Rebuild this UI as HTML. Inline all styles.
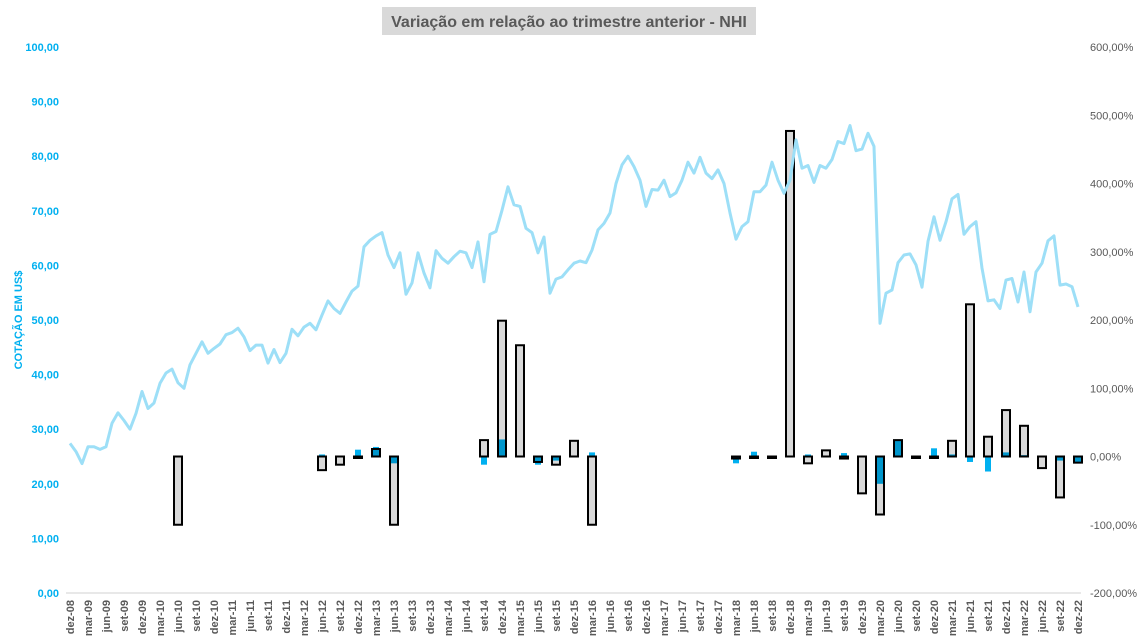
<!DOCTYPE html>
<html><head><meta charset="utf-8"><style>
body{margin:0;background:#fff;}
svg{display:block;font-family:"Liberation Sans",sans-serif;}
</style></head><body>
<svg id="chart" width="1139" height="643" viewBox="0 0 1139 643" xmlns="http://www.w3.org/2000/svg">
<rect x="0" y="0" width="1139" height="643" fill="#fff"/>
<rect x="382" y="7" width="374" height="28" fill="#d9d9d9"/>
<text x="569" y="27" text-anchor="middle" font-size="16" font-weight="bold" fill="#595959">Variação em relação ao trimestre anterior - NHI</text>
<text transform="translate(22,320) rotate(-90)" text-anchor="middle" font-size="11" font-weight="bold" fill="#00b0f0">COTAÇÃO EM US$</text>
<line x1="66" y1="593" x2="1081" y2="593" stroke="#d0d0d0" stroke-width="1"/>
<g id="leftTicks"></g><g id="rightTicks"></g><g id="xLabels"></g>
<g id="bars"></g><g id="blueBars"></g><g id="lineG"></g>
</svg>
<script>
const prices=[27.4,25.9,23.7,26.8,26.8,26.3,26.8,31.1,33.0,31.6,30.0,32.9,36.9,33.8,34.8,38.4,40.3,41.0,38.5,37.5,41.8,43.9,46.0,43.9,44.8,45.6,47.3,47.7,48.5,46.9,44.4,45.4,45.4,42.1,44.6,42.2,43.9,48.3,47.1,48.7,49.4,48.2,50.9,53.5,52.1,51.2,53.3,55.3,56.2,63.4,64.6,65.4,66.0,61.9,59.6,62.3,54.7,56.8,62.3,58.6,55.9,62.7,61.3,60.4,61.6,62.6,62.3,59.6,64.3,57.0,65.7,66.2,70.1,74.4,71.1,70.8,66.8,66.0,62.3,65.2,54.9,57.5,57.9,59.2,60.4,60.8,60.5,62.8,66.5,67.7,69.6,75.0,78.4,80.0,78.1,75.6,70.8,73.9,73.8,75.6,72.6,73.3,75.6,78.9,76.9,79.8,76.9,75.9,77.5,75.0,69.6,64.8,67.1,68.0,73.5,73.5,74.7,78.9,75.6,73.2,75.6,83.0,77.8,78.3,75.2,78.3,77.8,79.4,82.7,82.3,85.6,81.0,81.3,84.2,81.8,49.4,54.9,55.5,60.5,61.9,62.1,60.1,56.0,64.4,68.9,64.6,68.0,72.2,73.0,65.7,67.1,68.0,59.5,53.5,53.7,52.1,57.3,57.6,53.3,58.8,51.5,58.8,60.4,64.5,65.4,56.4,56.6,56.1,52.4];
const quarterLabels=["dez-08","mar-09","jun-09","set-09","dez-09","mar-10","jun-10","set-10","dez-10","mar-11","jun-11","set-11","dez-11","mar-12","jun-12","set-12","dez-12","mar-13","jun-13","set-13","dez-13","mar-14","jun-14","set-14","dez-14","mar-15","jun-15","set-15","dez-15","mar-16","jun-16","set-16","dez-16","mar-17","jun-17","set-17","dez-17","mar-18","jun-18","set-18","dez-18","mar-19","jun-19","set-19","dez-19","mar-20","jun-20","set-20","dez-20","mar-21","jun-21","set-21","dez-21","mar-22","jun-22","set-22","dez-22"];
const grayVals=[null,null,null,null,null,null,-100,null,null,null,null,null,null,null,-20,-12,-2,11,-100,null,null,null,null,24,199,163,-8,-12,23,-100,null,null,null,null,null,null,null,-3,-2,-1,477,-10,9,-3,-54,-85,24,-1,-2,23,223,29,68,45,-17,-60,-9];
const blueVals=[null,null,null,null,null,null,null,null,null,null,null,null,null,null,3,null,10,14,-10,null,null,null,null,-12,25,null,-12,-6,null,6,null,null,null,null,null,null,null,-10,7,null,null,3,null,5,null,-40,25,null,12,3,-8,-22,6,2,null,-6,-9];
const leftTicks=["0,00","10,00","20,00","30,00","40,00","50,00","60,00","70,00","80,00","90,00","100,00"];
const rightTicks=["-200,00%","-100,00%","0,00%","100,00%","200,00%","300,00%","400,00%","500,00%","600,00%"];
const NS="http://www.w3.org/2000/svg";
const X0=70,X1=1078,Y0=593,Y1=47;
const xq=q=>X0+(X1-X0)*q/(quarterLabels.length-1);
const xm=i=>X0+(X1-X0)*i/(prices.length-1);
const yL=v=>Y0-(Y0-Y1)*v/100;
const yR=p=>Y0-(Y0-Y1)*(p+200)/800;
function mk(tag,attrs,parent){const e=document.createElementNS(NS,tag);for(const k in attrs)e.setAttribute(k,attrs[k]);parent.appendChild(e);return e;}
const gl=document.getElementById('leftTicks');
leftTicks.forEach((t,i)=>{const e=mk('text',{x:59,y:yL(i*10)+4,'text-anchor':'end','font-size':11,'font-weight':'bold',fill:'#00b0f0'},gl);


e.textContent=t;});
const gr=document.getElementById('rightTicks');
rightTicks.forEach((t,i)=>{const e=mk('text',{x:1090,y:yR(-200+i*100)+4,'font-size':11,fill:'#595959'},gr);


e.textContent=t;});
const gx=document.getElementById('xLabels');
quarterLabels.forEach((t,q)=>{const x=xq(q)+4;const e=mk('text',{transform:`translate(${x},600) rotate(-90)`,'text-anchor':'end','font-size':11,'font-weight':'bold',fill:'#595959'},gx);


e.textContent=t;});
const gb=document.getElementById('bars');
const gbb=document.getElementById('blueBars');
const z=yR(0);
grayVals.forEach((v,q)=>{if(v===null)return;const y=yR(v);const r=mk('rect',{x:xq(q)-4,y:Math.min(y,z),width:8,height:Math.max(Math.abs(y-z),1.5),fill:'#d9d9d9',stroke:'#000','stroke-width':2},gb);

});
blueVals.forEach((v,q)=>{if(v===null)return;const y=yR(v);const r=mk('rect',{x:xq(q)-3,y:Math.min(y,z),width:6,height:Math.abs(y-z),fill:'#00b0f0',style:'mix-blend-mode:multiply'},gbb);

});
const pts=prices.map((v,i)=>xm(i).toFixed(1)+','+yL(v).toFixed(1)).join(' ');
const pl=mk('polyline',{points:pts,fill:'none',stroke:'#9ddff7','stroke-width':3,'stroke-linejoin':'round'},document.getElementById('lineG'));


</script>
</body></html>
